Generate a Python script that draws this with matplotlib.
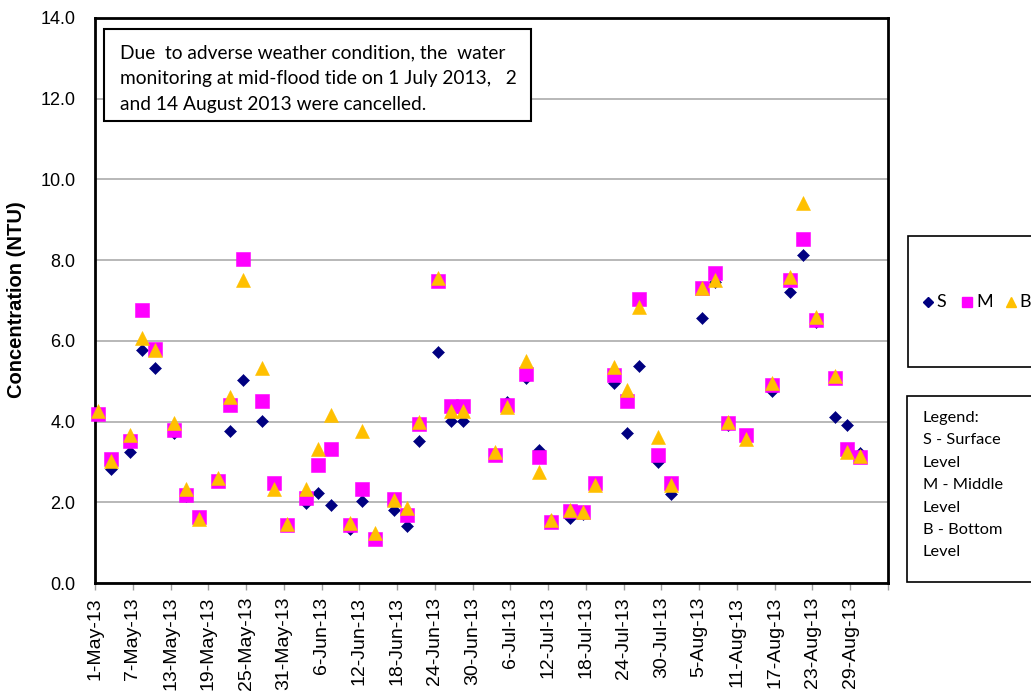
import matplotlib
matplotlib.use("Agg")
import matplotlib.pyplot as plt
from matplotlib.patches import Rectangle
import pandas as pd
from datetime import timedelta

dates = ['2013-05-01', '2013-05-03', '2013-05-06', '2013-05-08', '2013-05-10', '2013-05-13',
         '2013-05-15', '2013-05-17', '2013-05-20', '2013-05-22', '2013-05-24', '2013-05-27',
         '2013-05-29', '2013-05-31', '2013-06-03', '2013-06-05', '2013-06-07', '2013-06-10',
         '2013-06-12', '2013-06-14', '2013-06-17', '2013-06-19', '2013-06-21', '2013-06-24',
         '2013-06-26', '2013-06-28', '2013-07-03', '2013-07-05', '2013-07-08', '2013-07-10',
         '2013-07-12', '2013-07-15', '2013-07-17', '2013-07-19', '2013-07-22', '2013-07-24',
         '2013-07-26', '2013-07-29', '2013-07-31', '2013-08-05', '2013-08-07', '2013-08-09',
         '2013-08-12', '2013-08-16', '2013-08-19', '2013-08-21', '2013-08-23', '2013-08-26',
         '2013-08-28', '2013-08-30']

surface = [4.20, 2.82, 3.25, 5.77, 5.32, 3.71, 2.15, 1.60, 2.53, 3.77, 5.03, 4.02, 2.45, 1.44,
           1.97, 2.22, 1.93, 1.33, 2.03, 1.10, 1.81, 1.41, 3.53, 5.73, 4.02, 4.02, 3.20, 4.49,
           5.09, 3.30, 1.55, 1.60, 1.72, 2.45, 4.95, 3.72, 5.38, 3.01, 2.21, 6.57, 7.47, 3.92,
           3.65, 4.76, 7.22, 8.13, 6.47, 4.12, 3.91, 3.22]

middle = [4.20, 3.08, 3.53, 6.77, 5.79, 3.79, 2.18, 1.63, 2.53, 4.41, 8.02, 4.52, 2.47, 1.44,
          2.10, 2.92, 3.32, 1.44, 2.32, 1.08, 2.08, 1.68, 3.93, 7.49, 4.39, 4.39, 3.17, 4.41,
          5.18, 3.13, 1.52, 1.79, 1.77, 2.47, 5.15, 4.52, 7.03, 3.17, 2.47, 7.30, 7.67, 3.97,
          3.67, 4.91, 7.52, 8.52, 6.52, 5.07, 3.31, 3.13]

bottom = [4.27, 3.03, 3.67, 6.06, 5.77, 3.96, 2.32, 1.58, 2.59, 4.62, 7.51, 5.32, 2.32, 1.46,
          2.32, 3.31, 4.16, 1.48, 3.77, 1.23, 2.05, 1.87, 4.00, 7.55, 4.26, 4.26, 3.25, 4.37,
          5.51, 2.76, 1.56, 1.81, 1.77, 2.43, 5.36, 4.78, 6.83, 3.61, 2.43, 7.30, 7.51, 4.00,
          3.58, 4.95, 7.59, 9.42, 6.60, 5.13, 3.25, 3.14]

series_labels = ['S', 'M', 'B']
series_colors = ['#000080', '#FF00FF', '#FFC000']
y_ticks = [0, 2, 4, 6, 8, 10, 12, 14]
note_lines = ["Due  to adverse weather condition, the  water",
              "monitoring at mid-flood tide on 1 July 2013,   2",
              "and 14 August 2013 were cancelled."]
legend_lines = ["Legend:", "S - Surface", "Level", "M - Middle", "Level", "B - Bottom", "Level"]

W, H = 1031, 698
fig = plt.figure(figsize=(W / 100, H / 100), dpi=100)
fig.patch.set_facecolor('white')


def fx(px):
    return px / W


def fy(py):
    return 1 - py / H


ax = fig.add_axes([fx(95), fy(583), fx(888) - fx(95), fy(18) - fy(583)])

x = pd.to_datetime(dates) + timedelta(hours=12)
markers = ['D', 's', '^']
sizes = [6.0, 9.5, 9.8]
for vals, lab, col, mk, ms in zip([surface, middle, bottom], series_labels, series_colors, markers, sizes):
    ax.plot(x, vals, linestyle='none', marker=mk, markersize=ms, color=col,
            markeredgecolor=col, markeredgewidth=0.4, label=lab, clip_on=False, zorder=3)

ax.set_ylim(0, 14)
ax.set_yticks(y_ticks)
ax.set_yticklabels([f"{v:.1f}" for v in y_ticks], fontsize=13, family='Liberation Sans')
ax.yaxis.grid(True, color='#ABABAB', linewidth=1.2)
ax.set_axisbelow(True)
ax.tick_params(axis='y', length=0, pad=14)

ax.set_xlim(pd.Timestamp('2013-05-01'), pd.Timestamp('2013-09-04'))
ticks = pd.date_range('2013-05-01', '2013-08-29', freq='6D')
ax.set_xticks(ticks)
ax.set_xticks([pd.Timestamp('2013-09-04')], minor=True)
ax.set_xticklabels([f"{d.day}-{d.strftime('%b')}-{d.strftime('%y')}" for d in ticks],
                   rotation=90, fontsize=14, family='Liberation Sans')
ax.tick_params(axis='x', which='both', length=5, width=1, color='#A0A0A0', pad=5)

for s in ax.spines.values():
    s.set_linewidth(2)
    s.set_color('black')

fig.text(fx(17), fy(300), 'Concentration (NTU)', fontsize=14.5, fontweight='bold',
         family='Liberation Sans', rotation=90, ha='center', va='center')

# note box
fig.patches.append(Rectangle((fx(104), fy(121)), fx(531) - fx(104), fy(29) - fy(121),
                             transform=fig.transFigure, facecolor='white', edgecolor='black',
                             linewidth=1.5, zorder=5))
for i, line in enumerate(note_lines):
    fig.text(fx(120), fy(58 + 26.2 * i), line, fontsize=13.8, family='Lato',
             va='baseline', ha='left', zorder=6)

# legend box
fig.patches.append(Rectangle((fx(908), fy(367)), fx(1040) - fx(908), fy(236) - fy(367),
                             transform=fig.transFigure, facecolor='white', edgecolor='black',
                             linewidth=1.2, zorder=5, clip_on=False))
leg_items = [(928, 'D', 5.1, 'S', 936), (967, 's', 7.2, 'M', 976), (1011, '^', 7.4, 'B', 1019)]
for (mx, mk, ms, lab, tx), col in zip(leg_items, series_colors):
    fig.lines.append(plt.Line2D([fx(mx)], [fy(302)], marker=mk, markersize=ms, color=col,
                                linestyle='none', transform=fig.transFigure, zorder=6))
    fig.text(fx(tx), fy(302), lab, fontsize=13, family='Lato', va='center',
             ha='left', zorder=6)

# legend text box
fig.patches.append(Rectangle((fx(907), fy(582)), fx(1040) - fx(907), fy(396) - fy(582),
                             transform=fig.transFigure, facecolor='white', edgecolor='black',
                             linewidth=1.2, zorder=5, clip_on=False))
for i, line in enumerate(legend_lines):
    fig.text(fx(923), fy(418 + 22.4 * i), line, fontsize=11.8, family='Lato', va='center',
             ha='left', zorder=6)

fig.savefig('out.png', dpi=100)
